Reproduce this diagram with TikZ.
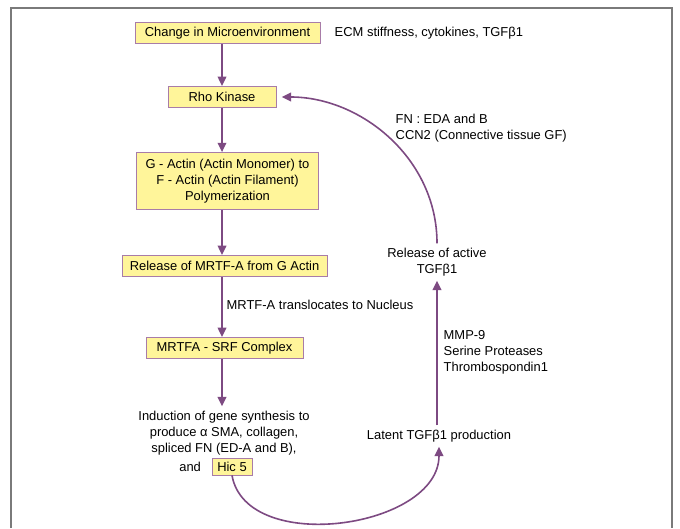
\documentclass[tikz,border=0pt]{standalone}
\usepackage{fontspec}
\setmainfont{Liberation Sans}
\usetikzlibrary{arrows.meta, positioning}
\definecolor{boxfill}{HTML}{FFF59A}
\definecolor{boxline}{HTML}{A87CA8}
\definecolor{flow}{HTML}{7D4A82}
\definecolor{framegray}{HTML}{7A7A7A}

\begin{document}
\begin{tikzpicture}[x=0.75pt,y=-0.75pt,
every node/.style={font=\fontsize{9.7}{12}\selectfont},
box/.style={draw=boxline,fill=boxfill,semithick,minimum height=16pt,inner xsep=4pt,inner ysep=2pt},
note/.style={align=left,anchor=west},
flowline/.style={draw=flow,line width=1.2pt,-{Triangle[width=6.5pt,length=7pt]}}]
\useasboundingbox (0,0) rectangle (680,528);
\draw[framegray,line width=1.5pt] (11,528) -- (11,8) -- (672,8) -- (672,528);

% The main chain down the left side:
\node [box,minimum width=138.75pt] (micro) at (227.5,33) {Change in Microenvironment};
\node [box,minimum width=81pt] (rho) at (222,97) {Rho Kinase};
\node [box,align=center,minimum width=137pt,minimum height=42.75pt] (actin) at (227.5,181)
  {G - Actin (Actin Monomer) to\\F - Actin (Actin Filament)\\Polymerization};
\node [box,minimum width=153.75pt] (mrtf) at (224.5,266) {Release of MRTF-A from G Actin};
\node [box,minimum width=117.75pt] (complex) at (224.5,348) {MRTFA - SRF Complex};
\node [align=center] (induct) at (224,433)
  {Induction of gene synthesis to\\produce α SMA, collagen,\\spliced FN (ED-A and B),};
\node [box,minimum width=30pt,minimum height=12.75pt,inner sep=1pt] (hic) at (232,466.5) {Hic 5};
\node [left=4.5pt of hic] (andword) {and};

% The loop on the right:
\node [align=center] (active) at (437,262) {Release of active\\TGFβ1};
\node (latent) at (439,436) {Latent TGFβ1 production};

% Side notes
\node [note] (ecm) at (330,33) {ECM stiffness, cytokines, TGFβ1};
\node [note] (fn) at (391,128.5) {FN : EDA and B\\CCN2 (Connective tissue GF)};
\node [note] (transloc) at (222,305) {MRTF-A translocates to Nucleus};
\node [note] (mmp) at (439,352) {MMP-9\\Serine Proteases\\Thrombospondin1};

\draw[flowline] (micro.south -| rho) -- (rho.north);
\draw[flowline] (rho.south) -- (actin.north -| rho);
\draw[flowline] (actin.south -| rho) -- (mrtf.north -| rho);
\draw[flowline] (mrtf.south -| rho) -- (complex.north -| rho);
\draw[flowline] (complex.south -| rho) -- (induct.north -| rho);
\draw[flowline] (hic.south) to[out=-80,in=-90] (latent.south);
\draw[flowline] (latent.north -| active) -- (active.south);
\draw[flowline,shorten >=4pt] (active.north) to[out=90,in=0] (rho.east);
\end{tikzpicture}
\end{document}
